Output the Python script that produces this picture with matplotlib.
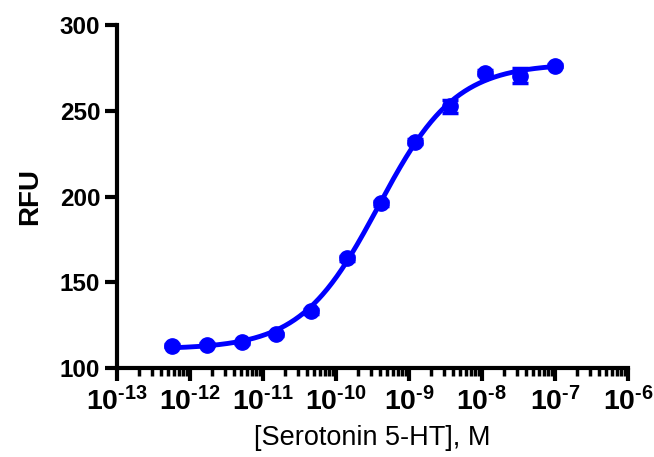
import numpy as np
import matplotlib
matplotlib.use("Agg")
import matplotlib.pyplot as plt
from matplotlib.ticker import LogLocator, FixedLocator

plt.rcParams['font.family'] = ['Liberation Sans', 'DejaVu Sans']
plt.rcParams['mathtext.fontset'] = 'custom'
plt.rcParams['mathtext.rm'] = 'Liberation Sans:bold'
plt.rcParams['mathtext.bf'] = 'Liberation Sans:bold'
plt.rcParams['mathtext.it'] = 'Liberation Sans:bold'
plt.rcParams['mathtext.sf'] = 'Liberation Sans:bold'

# Data
conc = [5.6e-13, 1.7e-12, 5.1e-12, 1.5e-11, 4.6e-11, 1.4e-10, 4.1e-10,
        1.2e-9, 3.7e-9, 1.1e-8, 3.3e-8, 1.0e-7]
rfu = [113.0, 113.6, 115.0, 119.6, 133.0, 164.0, 196.0, 232.0, 252.5, 272.3, 270.5, 276.3]
err = [1.0, 1.0, 1.0, 1.0, 1.5, 1.5, 1.5, 1.5, 4.0, 1.5, 4.5, 1.0]

# 4PL fit parameters (bottom, top, logEC50, hill)
fit_bottom = 111.0
fit_top = 277.5
fit_logec50 = -9.42
fit_hill = 0.82

x_ticks = [1e-13, 1e-12, 1e-11, 1e-10, 1e-9, 1e-8, 1e-7, 1e-6]
x_exps = ['13', '12', '11', '10', '9', '8', '7', '6']
y_ticks = [100, 150, 200, 250, 300]

blue = '#0000FF'

fig = plt.figure(figsize=(6.54, 4.57), dpi=100)
ax = fig.add_axes([117/654, 1-368/457, (628-117)/654, (368-25)/457])

xf = np.logspace(np.log10(conc[0]), np.log10(conc[-1]), 400)
yf = fit_bottom + (fit_top - fit_bottom) / (1 + 10 ** ((fit_logec50 - np.log10(xf)) * fit_hill))
ax.plot(xf, yf, color=blue, lw=3.5, zorder=3)
ax.errorbar(conc, rfu, yerr=err, fmt='o', color=blue, ms=11, elinewidth=2.5,
            capsize=6, capthick=2.5, zorder=4)

ax.set_xscale('log')
ax.set_xlim(1e-13, 1e-6)
ax.set_ylim(100, 300)
ax.xaxis.set_major_locator(FixedLocator(x_ticks))
ax.set_xticklabels([r'$10^{\text{-}%s}$' % e for e in x_exps])
ax.xaxis.set_minor_locator(LogLocator(base=10, subs=np.arange(2, 10), numticks=100))
ax.set_yticks(y_ticks)
ax.set_yticklabels([str(v) for v in y_ticks], fontweight='bold')

for s in ['top', 'right']:
    ax.spines[s].set_visible(False)
for s in ['left', 'bottom']:
    ax.spines[s].set_linewidth(3)
    ax.spines[s].set_capstyle('projecting')

ax.tick_params(axis='both', which='major', direction='out', length=9, width=3)
ax.tick_params(axis='x', which='major', labelsize=20.5, pad=5)
ax.tick_params(axis='y', which='major', labelsize=17.5, pad=3)
ax.tick_params(axis='x', which='minor', direction='out', length=5.5, width=2.5)

ax.set_xlabel('[Serotonin 5-HT], M', fontsize=19.5, labelpad=6)
ax.set_ylabel('RFU', fontsize=20, fontweight='bold', labelpad=12)

fig.savefig('out.png', dpi=100)
